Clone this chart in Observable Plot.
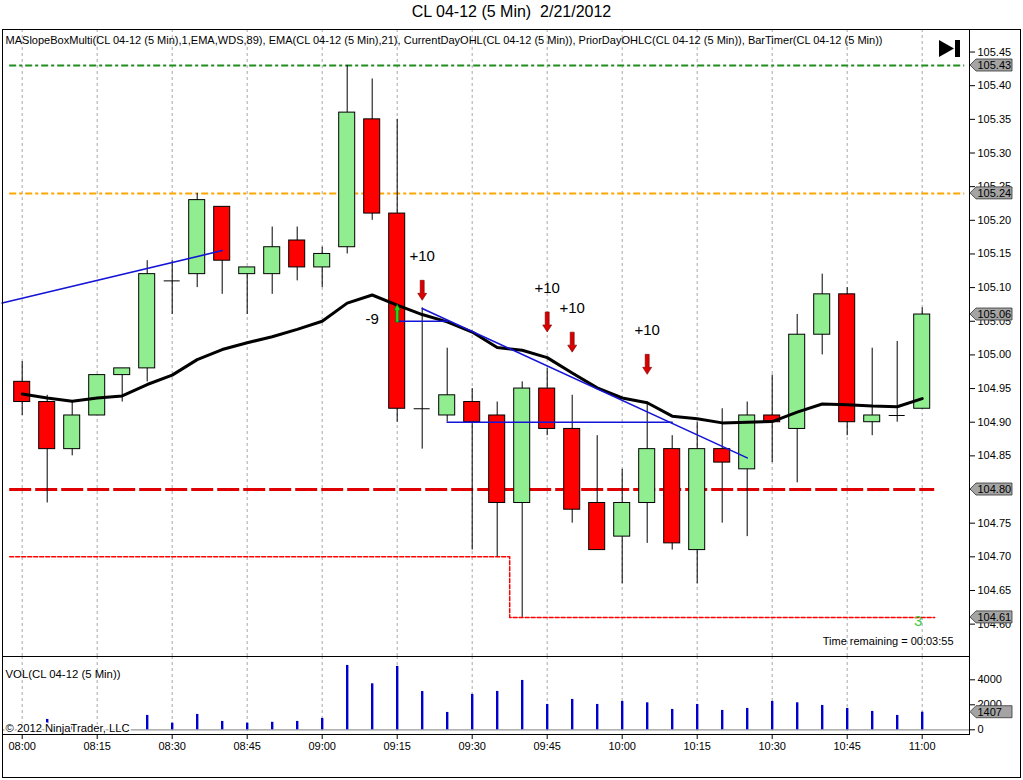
<!DOCTYPE html>
<html><head><meta charset="utf-8">
<script src="https://cdn.jsdelivr.net/npm/d3@7"></script>
<script src="https://cdn.jsdelivr.net/npm/@observablehq/plot@0.6"></script>
<style>
body{margin:0;background:#fff;font-family:"Liberation Sans",Arial,sans-serif;}
#wrap{position:relative;width:1023px;height:780px;overflow:hidden;background:#fff;}
#title{position:absolute;left:0;top:3px;width:1023px;text-align:center;font-size:16px;color:#000;}
#price{position:absolute;left:0;top:29px;}
#vol{position:absolute;left:0;top:656px;}
#border{position:absolute;left:2px;top:29px;width:1017px;height:747px;border:1px solid #000;pointer-events:none;}
</style></head><body>
<div id="wrap">
<div id="title">CL 04-12 (5 Min)&nbsp;&nbsp;2/21/2012</div>
<div id="price"></div>
<div id="vol"></div>
<div id="border"></div>
</div>
<script>
// ---------- data ----------
const times = ["08:00","08:05","08:10","08:15","08:20","08:25","08:30","08:35","08:40","08:45","08:50","08:55",
  "09:00","09:05","09:10","09:15","09:20","09:25","09:30","09:35","09:40","09:45","09:50","09:55",
  "10:00","10:05","10:10","10:15","10:20","10:25","10:30","10:35","10:40","10:45","10:50","10:55","11:00"];
const open  = [104.96,104.93,104.86,104.91,104.97,104.98,105.11,105.12,105.22,105.12,105.12,105.17,
  105.13,105.16,105.35,105.21,104.92,104.91,104.93,104.91,104.78,104.95,104.89,104.78,
  104.73,104.78,104.86,104.71,104.86,104.83,104.91,104.89,105.03,105.09,104.90,104.91,104.92];
const high  = [104.99,104.94,104.93,104.97,104.98,105.14,105.14,105.24,105.22,105.13,105.19,105.19,
  105.16,105.43,105.41,105.35,105.07,105.01,104.95,104.93,104.96,104.98,104.94,104.88,
  104.83,104.93,104.88,104.90,104.92,104.93,104.97,105.06,105.12,105.10,105.01,105.02,105.07];
const low   = [104.91,104.78,104.85,104.91,104.93,104.96,105.06,105.10,105.09,105.06,105.09,105.11,
  105.10,105.15,105.20,104.90,104.86,104.90,104.71,104.70,104.61,104.88,104.75,104.71,
  104.66,104.72,104.71,104.66,104.75,104.73,104.84,104.81,105.00,104.88,104.88,104.90,104.92];
const close = [104.93,104.86,104.91,104.97,104.98,105.12,105.11,105.23,105.14,105.13,105.16,105.13,
  105.15,105.36,105.21,104.92,104.92,104.94,104.90,104.78,104.95,104.89,104.77,104.71,
  104.78,104.86,104.72,104.86,104.84,104.91,104.90,105.03,105.09,104.90,104.91,104.91,105.06];
const volume = [300,830,250,300,200,1150,530,1230,670,530,600,670,
  910,5150,3680,5070,3060,1390,2830,3070,3950,2030,2430,2030,
  2270,2160,1630,2030,1550,1710,2270,2160,1950,1710,1470,1150,1407];
const ema21 = [104.942,104.936,104.931,104.936,104.939,104.956,104.970,104.993,105.008,105.018,105.027,105.038,
  105.050,105.077,105.089,105.074,105.060,105.049,105.034,105.011,105.007,104.996,104.973,104.951,
  104.936,104.929,104.909,104.905,104.899,104.900,104.901,104.915,104.927,104.926,104.924,104.923,104.935];

// MA slope box lines (blue)
const slopeFrom  = ["07:56","09:15","09:20","09:25"];
const slopeTo    = ["08:40","09:25","10:25","10:10"];
const slopeP1    = [105.077,105.05,105.069,104.90];
const slopeP2    = [105.155,105.05,104.847,104.90];

// day levels
const dayHigh = 105.43, priorLevel = 105.24, priorLow = 104.80;
const levelStart = "07:57:30", levelEndLong = "11:08:30", levelEndShort = "11:02:30";
const lowStepTimes  = ["07:57:30","09:37:30","11:02:30"];
const lowStepPrices = [104.70,104.61,104.61];

// signals
const sellTimes  = ["09:20","09:45","09:50","10:05"];
const sellPrices = [105.096,105.049,105.019,104.986];
const sellLabels = ["+10","+10","+10","+10"];
const buyTimes = ["09:15"], buyPrices = [105.062], buyLabels = ["-9"];

// axis ticks / markers
const priceTicks = [104.60,104.65,104.70,104.75,104.80,104.85,104.90,104.95,105.00,105.05,105.10,105.15,105.20,105.25,105.30,105.35,105.40,105.45];
const volTicks = [0,2000,4000];
const timeTicks = ["08:00","08:15","08:30","08:45","09:00","09:15","09:30","09:45","10:00","10:15","10:30","10:45","11:00"];
const priceMarkers = [105.43,105.24,105.06,104.80,104.61];
const volMarker = 1407;

// ---------- helpers ----------
const toMin = s => { const a = s.split(":").map(Number); return a[0]*60 + a[1] + (a[2]||0)/60; };
const fmtT = t => String(Math.floor(t/60)).padStart(2,"0") + ":" + String(Math.round(t%60)).padStart(2,"0");
const T = times.map(toMin);
const bars = T.map((t,i)=>({t, o:open[i], h:high[i], l:low[i], c:close[i], v:volume[i], e:ema21[i]}));
const upBars = bars.filter(d=>d.c>d.o), dnBars = bars.filter(d=>d.c<d.o), doji = bars.filter(d=>d.c===d.o);
const gridT = timeTicks.map(toMin);
const slopePts = [];
slopeFrom.forEach((s,i)=>{ slopePts.push({z:i,t:toMin(s),p:slopeP1[i]}); slopePts.push({z:i,t:toMin(slopeTo[i]),p:slopeP2[i]}); });
const sells = sellTimes.map((s,i)=>({t:toMin(s), p:sellPrices[i], label:sellLabels[i]}));
const buys = buyTimes.map((s,i)=>({t:toMin(s), p:buyPrices[i], label:buyLabels[i]}));
const lowStep = lowStepTimes.map((s,i)=>({t:toMin(s), p:lowStepPrices[i]}));
const hw = 1.6; // half body width in minutes

const downArrow = {draw(ctx){ ctx.moveTo(-2,-10); ctx.lineTo(2,-10); ctx.lineTo(2,3); ctx.lineTo(4.5,3); ctx.lineTo(0,10); ctx.lineTo(-4.5,3); ctx.lineTo(-2,3); ctx.closePath(); }};
const upArrow = {draw(ctx){ ctx.moveTo(-1.5,9); ctx.lineTo(1.5,9); ctx.lineTo(1.5,-3); ctx.lineTo(3.2,-3); ctx.lineTo(0,-9); ctx.lineTo(-3.2,-3); ctx.lineTo(-1.5,-3); ctx.closePath(); }};

const xDomain = [476.06, 669.46];
const style = {fontFamily:"'Liberation Sans', Arial, sans-serif", fontSize:"11px", color:"black", background:"white", overflow:"visible"};
const LS = toMin(levelStart), LEL = toMin(levelEndLong), LES = toMin(levelEndShort);

// ---------- price panel ----------
const priceSvg = Plot.plot({
  width:1023, height:627, marginLeft:2, marginRight:54, marginTop:0, marginBottom:0,
  style,
  x:{domain:xDomain, axis:null},
  y:{domain:[104.5519,105.4835]},
  marks:[
    Plot.ruleX(gridT, {x:d=>d, stroke:"#a8a8a8", strokeDasharray:"3,3"}),
    Plot.ruleY([dayHigh], {y:d=>d, x1:LS, x2:LEL, stroke:"#228B22", strokeWidth:2, strokeDasharray:"7,3,3,3"}),
    Plot.ruleY([priorLevel], {y:d=>d, x1:LS, x2:LEL, stroke:"#FFA500", strokeWidth:2, strokeDasharray:"7,3,3,3"}),
    Plot.ruleY([priorLow], {y:d=>d, x1:LS, x2:LES, stroke:"#E00000", strokeWidth:3, strokeDasharray:"22,4"}),
    Plot.line(lowStep, {x:"t", y:"p", curve:"step-after", stroke:"#FF0000", strokeWidth:1.5, strokeDasharray:"4,2"}),
    Plot.ruleX(bars, {x:"t", y1:"l", y2:"h", stroke:"black", strokeWidth:1}),
    Plot.rect(upBars, {x1:d=>d.t-hw, x2:d=>d.t+hw, y1:"o", y2:"c", fill:"#90EE90", stroke:"black", strokeWidth:1}),
    Plot.rect(dnBars, {x1:d=>d.t-hw, x2:d=>d.t+hw, y1:"o", y2:"c", fill:"#FF0000", stroke:"black", strokeWidth:1}),
    Plot.ruleY(doji, {y:"o", x1:d=>d.t-hw, x2:d=>d.t+hw, stroke:"black", strokeWidth:1}),
    Plot.line(bars, {x:"t", y:"e", stroke:"black", strokeWidth:3}),
    Plot.line(slopePts, {x:"t", y:"p", z:"z", stroke:"#1414D8", strokeWidth:1.6}),
    Plot.dot(sells, {x:"t", y:"p", symbol:downArrow, fill:"#D80000", stroke:"#7a0000", strokeWidth:0.6}),
    Plot.text(sells, {x:"t", y:"p", text:"label", dy:-34, fontSize:15, fill:"black"}),
    Plot.dot(buys, {x:"t", y:"p", symbol:upArrow, fill:"#22DD22", stroke:"#006600", strokeWidth:0.6}),
    Plot.text(buys, {x:"t", y:"p", text:"label", dx:-25, dy:6, fontSize:15, fill:"black"}),
    Plot.text(["3"], {x:T[T.length-1], y:lowStepPrices[2], text:d=>d, dx:-4, dy:4, fontSize:15, fill:"#44CC44"}),
    Plot.text(["Time remaining = 00:03:55"], {frameAnchor:"bottom-right", text:d=>d, dx:-16, dy:-15, lineAnchor:"middle", textAnchor:"end", fontSize:11}),
    Plot.text(["MASlopeBoxMulti(CL 04-12 (5 Min),1,EMA,WDS,89), EMA(CL 04-12 (5 Min),21), CurrentDayOHL(CL 04-12 (5 Min)), PriorDayOHLC(CL 04-12 (5 Min)), BarTimer(CL 04-12 (5 Min))"],
      {frameAnchor:"top-left", text:d=>d, dx:3, dy:11, lineAnchor:"middle", textAnchor:"start", fontSize:11}),
    Plot.frame({stroke:"black"}),
    Plot.axisY(priceTicks, {anchor:"right", tickFormat:d=>d.toFixed(2), tickSize:5, tickPadding:3, label:null, fontSize:11})
  ]
});
document.getElementById("price").appendChild(priceSvg);

// ---------- volume panel ----------
const volSvg = Plot.plot({
  width:1023, height:121, marginLeft:2, marginRight:54, marginTop:0, marginBottom:43,
  style,
  x:{domain:xDomain},
  y:{domain:[-376,5864]},
  marks:[
    Plot.ruleX(gridT, {x:d=>d, stroke:"#a8a8a8", strokeDasharray:"3,3"}),
    Plot.ruleY([0], {stroke:"#999", strokeWidth:1.2}),
    Plot.ruleX(bars, {x:"t", y1:0, y2:"v", stroke:"#0000CD", strokeWidth:2.4}),
    Plot.text(["VOL(CL 04-12 (5 Min))"], {frameAnchor:"top-left", text:d=>d, dx:3, dy:18, lineAnchor:"middle", textAnchor:"start", fontSize:11}),
    Plot.text(["© 2012 NinjaTrader, LLC"], {frameAnchor:"top-left", text:d=>d, dx:3, dy:72, lineAnchor:"middle", textAnchor:"start", fontSize:11, stroke:"white", strokeWidth:3, fill:"black"}),
    Plot.frame({stroke:"black"}),
    Plot.axisY(volTicks, {anchor:"right", tickSize:5, tickPadding:3, label:null, tickFormat:d=>String(d), fontSize:11}),
    Plot.axisX(gridT, {anchor:"bottom", tickSize:5, tickPadding:3, label:null, tickFormat:fmtT, fontSize:11})
  ]
});
document.getElementById("vol").appendChild(volSvg);

// ---------- fine tuning via library scales ----------
function fitText(svg, start, len){
  d3.select(svg).selectAll("text").each(function(){
    if (this.textContent.startsWith(start)) { d3.select(this).attr("textLength", len).attr("lengthAdjust","spacingAndGlyphs"); }
  });
}
fitText(priceSvg, "MASlopeBoxMulti", 877);
fitText(volSvg, "VOL(", 115);
fitText(volSvg, "©", 124);

function marker(svg, yPx, label){
  const g = d3.select(svg).append("g").attr("text-anchor","start");
  const xt = 970, xb = 976, xr = 1012, h = 6;
  g.append("path").attr("d", `M${xt},${yPx}L${xb},${yPx-h}L${xr},${yPx-h}L${xr},${yPx+h}L${xb},${yPx+h}Z`)
    .attr("fill","#a4a4a4").attr("stroke","#333").attr("stroke-width",0.8);
  g.append("text").attr("x", 977.5).attr("y", yPx).attr("dy","0.36em").attr("text-anchor","start")
    .attr("font-size",11).attr("fill","black").text(label);
}
const ys = priceSvg.scale("y");
priceMarkers.forEach(p => marker(priceSvg, ys.apply(p), p.toFixed(2)));
marker(volSvg, volSvg.scale("y").apply(volMarker), String(volMarker));

// play icon
const pg = d3.select(priceSvg).append("g").attr("fill","black");
pg.append("path").attr("d","M939,11L954,19.5L939,28Z");
pg.append("rect").attr("x",955).attr("y",11).attr("width",5).attr("height",17);
</script>
</body></html>
